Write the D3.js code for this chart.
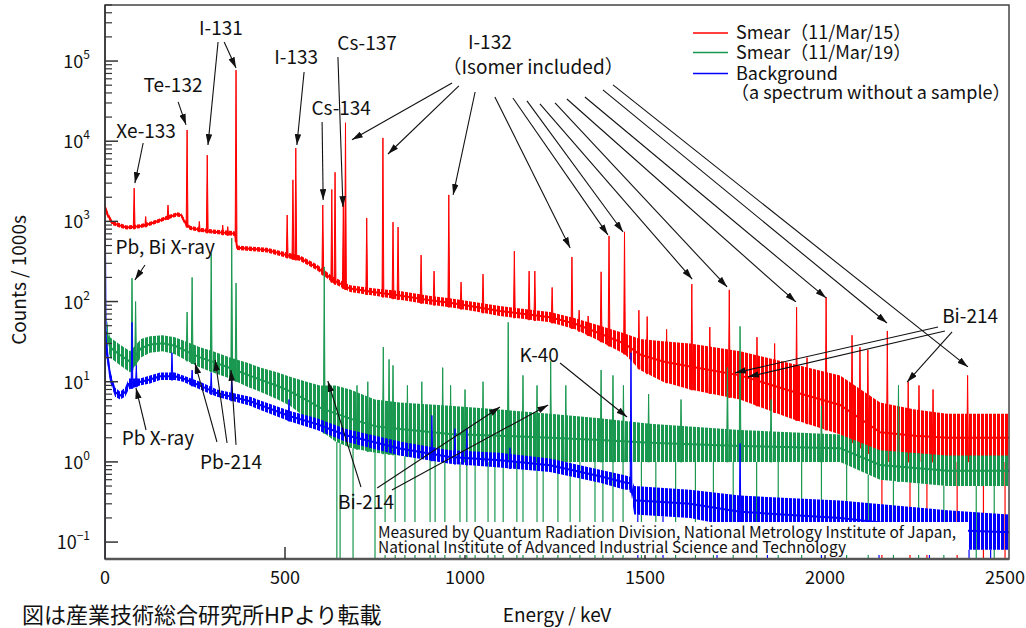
<!DOCTYPE html>
<html>
<head>
<meta charset="utf-8">
<script src="https://cdn.jsdelivr.net/npm/d3@7"></script>
<style>
    body { margin: 0; background: #fff; }
    text { font-family: "Noto Sans CJK JP", "Noto Sans", sans-serif; fill: #111; }
</style>
</head>
<body>
<div id="chart"></div>
<script>

//////
// Values

let xTicks = [0, 500, 1000, 1500, 2000, 2500];
let yDecades = [-1, 0, 1, 2, 3, 4, 5];

let seriesNames = ["Smear（11/Mar/15）", "Smear（11/Mar/19）", "Background"];
let seriesNote = "（a spectrum without a sample）";
let seriesColors = ["#ff0000", "#1a9850", "#0000ff"];

// [energy keV, low, high] envelope of the noisy spectrum (counts / 1000s)
let redBand = [
    [0, 1350, 1650], [8, 1100, 1300], [20, 900, 1020], [42, 830, 950], [60, 790, 890],
    [97, 820, 920], [125, 880, 990], [150, 960, 1080], [175, 1060, 1190], [200, 1150, 1300],
    [212, 1120, 1260], [222, 900, 1050], [236, 780, 880], [264, 740, 830], [300, 700, 790],
    [356, 660, 760], [362, 650, 740], [367, 440, 500], [450, 410, 470], [506, 350, 410],
    [542, 320, 375], [589, 245, 290], [633, 170, 205], [681, 132, 160], [750, 118, 145],
    [819, 105, 135], [900, 92, 118], [958, 85, 110], [1030, 75, 98], [1097, 66, 88],
    [1170, 60, 80], [1236, 55, 74], [1306, 45, 62], [1375, 32, 50], [1444, 22, 40],
    [1486, 14, 34], [1550, 10, 32], [1625, 8, 30], [1764, 6, 24], [1903, 3.5, 17],
    [2042, 2.2, 12], [2153, 1.0, 5.5], [2250, 1.0, 4.5], [2339, 1.0, 4], [2511, 1.0, 4]
];
// [energy keV, top]
let redPeaks = [
    [81, 2600], [113, 1150], [175, 1600], [228, 13800], [262, 1000], [284, 6700],
    [327, 900], [341, 860], [364, 77000], [506, 1200], [522, 3300], [530, 8200],
    [605, 1600], [630, 2500], [639, 4100], [662, 1800], [668, 17000], [727, 1100],
    [772, 11000], [800, 980], [814, 850], [878, 380], [914, 240], [955, 2140],
    [989, 175], [1050, 220], [1137, 425], [1178, 240], [1194, 240], [1242, 150],
    [1297, 360], [1317, 78], [1342, 66], [1378, 235], [1400, 660], [1443, 740],
    [1483, 78], [1506, 65], [1560, 45], [1630, 165], [1680, 48], [1734, 140],
    [1811, 36], [1860, 30], [1921, 85], [1950, 20], [2003, 114], [2075, 38],
    [2097, 27], [2119, 25], [2173, 43], [2231, 10], [2261, 9], [2300, 8], [2396, 12]
];
// energies where the count falls to zero
let redDrops = [2158, 2236, 2283, 2367, 2440, 2500];

let greenBand = [
    [5, 30, 60], [14, 20, 36], [42, 16, 29], [70, 13, 24], [100, 20, 34], [125, 23, 37],
    [160, 24, 38], [194, 22, 36], [230, 18, 31], [264, 15, 27], [300, 13, 24], [347, 11, 20],
    [400, 8.5, 17], [431, 7.5, 15], [480, 6, 13], [514, 5, 11.5], [560, 3.5, 10],
    [597, 2.5, 9], [640, 1.8, 9], [681, 1.5, 8], [750, 1.3, 6], [819, 1.2, 5.5],
    [958, 1.0, 5], [1097, 1.0, 4.5], [1236, 1.0, 4], [1375, 1.0, 3.5], [1514, 1.0, 3],
    [1764, 1.0, 2.5], [2042, 1.0, 2.2], [2153, 0.6, 1.4], [2339, 0.5, 1.2], [2511, 0.5, 1.2]
];
let greenPeaks = [
    [75, 196], [85, 100], [228, 74], [242, 200], [295, 400], [352, 620], [364, 170],
    [609, 270], [700, 9], [730, 10], [773, 27], [789, 19], [800, 16], [840, 9], [880, 10],
    [938, 15], [960, 9], [1000, 8], [1050, 10], [1120, 55], [1161, 12], [1200, 9],
    [1238, 18], [1280, 9], [1378, 14], [1411, 12], [1440, 9], [1510, 7], [1600, 6],
    [1729, 15], [1764, 49], [1850, 6], [1990, 5], [2204, 9]
];
let greenDrops = [
    644, 653, 689, 750, 778, 806, 833, 861, 903, 917, 944, 986, 1005, 1028, 1064, 1083,
    1106, 1144, 1161, 1200, 1217, 1258, 1292, 1319, 1361, 1383, 1411, 1439, 1490, 1530,
    1585, 1640, 1690, 1745, 1810, 1870, 1935, 1990, 2060, 2120, 2190, 2260, 2330, 2420, 2470
];

let blueBand = [
    [3, 22, 40], [14, 10, 14], [28, 6.5, 8.5], [42, 6.0, 7.5], [56, 6.5, 8.5], [66, 8, 11],
    [97, 9, 11], [125, 9.5, 12], [153, 10.5, 13], [194, 10.5, 13], [217, 10, 12],
    [264, 8, 10], [311, 6.5, 8], [403, 5, 6.5], [514, 3.2, 4.3], [589, 2.5, 3.5],
    [667, 1.8, 2.6], [819, 1.2, 1.8], [958, 0.95, 1.4], [1097, 0.85, 1.3], [1236, 0.75, 1.1],
    [1375, 0.55, 0.8], [1444, 0.45, 0.68], [1460, 0.45, 0.65], [1470, 0.22, 0.5],
    [1625, 0.2, 0.45], [1764, 0.15, 0.38], [2042, 0.12, 0.33], [2339, 0.08, 0.25], [2511, 0.08, 0.22]
];
let bluePeaks = [
    [1, 1000], [75, 55], [87, 16], [186, 23], [242, 14], [295, 13], [352, 12], [511, 6],
    [908, 3.8], [972, 2.6], [1005, 2.6], [1125, 1.5], [1461, 23], [1764, 1.7]
];
let blueDrops = [1, 1480, 1550, 1700, 1840, 1990, 2150, 2290, 2400, 2460];

// [text, energy, counts] centre of each annotation
let noteLabels = [
    ["I-131", 322, 2.59e5], ["Te-132", 189, 5.0e4], ["Xe-133", 114, 1.34e4],
    ["I-133", 531, 1.12e5], ["Cs-134", 656, 2.6e4], ["Cs-137", 728, 1.68e5],
    ["I-132", 1069, 1.73e5], ["（Isomer included）", 1189, 8.4e4], ["Bi-214", 2403, 66],
    ["K-40", 1206, 21.6], ["Bi-214", 725, 0.316], ["Pb-214", 350, 1.0],
    ["Pb X-ray", 147, 1.99], ["Pb, Bi X-ray", 167, 480]
];
// [from energy, from counts, to energy, to counts]
let noteArrows = [
    [314, 1.73e5, 286, 8980], [331, 1.73e5, 364, 8.2e4], [203, 3.09e4, 225, 1.6e4],
    [106, 9500, 83, 3010], [553, 7.3e4, 533, 8980], [603, 1.74e4, 606, 1850],
    [647, 1.12e5, 661, 1510],
    [964, 5.33e4, 686, 1.04e4], [983, 4.89e4, 786, 6930], [1028, 4.11e4, 967, 2140],
    [1083, 3.56e4, 1292, 466], [1133, 3.46e4, 1397, 678], [1172, 3.18e4, 1439, 738],
    [1208, 2.92e4, 1631, 191], [1250, 3.0e4, 1728, 152], [1283, 3.36e4, 1919, 99],
    [1333, 3.56e4, 2003, 111], [1383, 4.36e4, 2172, 54], [1411, 5.04e4, 2397, 15.3],
    [2314, 48.2, 1750, 12.9], [2333, 43, 1786, 11.5], [2353, 41.8, 2228, 9.9],
    [1264, 17.1, 1450, 3.63],
    [711, 0.486, 619, 10.2], [756, 0.473, 1097, 4.84], [797, 0.447, 1231, 5.13],
    [311, 1.77, 250, 17.1], [339, 1.72, 306, 18.7], [364, 1.63, 350, 14.0],
    [114, 2.50, 86, 8.36], [111, 286, 83, 186]
];

let creditLines = [
    "Measured by Quantum Radiation Division, National Metrology Institute of Japan,",
    "National Institute of Advanced Industrial Science and Technology"
];
let sourceNote = "図は産業技術総合研究所HPより転載";
let xTitle = "Energy / keV";
let yTitle = "Counts / 1000s";

//////
// Layout

let width = 1026, height = 628;
let margin = {top: 5, right: 17, bottom: 69, left: 105};
let plotW = width - margin.left - margin.right;
let plotH = height - margin.top - margin.bottom;

let svg = d3.select("#chart").append("svg")
    .attr("width", width)
    .attr("height", height);

let xScale = d3.scaleLinear().domain([0, 2511]).range([0, plotW]);
let yScale = d3.scaleLog().domain([0.0615, 5e5]).range([plotH, 0]);

let defs = svg.append("defs");
defs.append("clipPath").attr("id", "plotClip")
    .append("rect").attr("width", plotW).attr("height", plotH);

//vertical hatch so the wide noise bands read as dense channel lines
seriesColors.forEach((c, i) =>
{
    let p = defs.append("pattern")
        .attr("id", "noise" + i)
        .attr("patternUnits", "userSpaceOnUse")
        .attr("width", 4).attr("height", 8);
    p.append("rect").attr("width", 3).attr("height", 8).attr("fill", c);
});

let marker = defs.append("marker")
    .attr("id", "arrowHead")
    .attr("viewBox", "0 0 10 6")
    .attr("refX", 10).attr("refY", 3)
    .attr("markerWidth", 11).attr("markerHeight", 6.5)
    .attr("markerUnits", "userSpaceOnUse")
    .attr("orient", "auto");
marker.append("path").attr("d", "M0,0L10,3L0,6Z").attr("fill", "#111");

let plot = svg.append("g").attr("transform", "translate(" + margin.left + "," + margin.top + ")");

//////
// Spectra

let dataLayer = plot.append("g").attr("clip-path", "url(#plotClip)");

function drawSeries(band, peaks, drops, i)
{
    let color = seriesColors[i];
    let g = dataLayer.append("g");

    let area = d3.area()
        .x(d => xScale(d[0]))
        .y0(d => yScale(d[1]))
        .y1(d => yScale(d[2]));

    g.append("path").datum(band)
        .attr("d", area)
        .attr("fill", "url(#noise" + i + ")");

    //centre line of the band
    let mid = d3.line()
        .x(d => xScale(d[0]))
        .y(d => yScale(Math.sqrt(d[1] * d[2])));
    g.append("path").datum(band)
        .attr("d", mid)
        .attr("fill", "none")
        .attr("stroke", color)
        .attr("stroke-width", 2);

    //low edge of the band at any energy, for the foot of spikes
    let lowAt = d3.scaleLinear()
        .domain(band.map(d => d[0]))
        .range(band.map(d => Math.log10(d[1])))
        .clamp(true);

    g.selectAll(".drop").data(drops).join("line")
        .attr("x1", d => xScale(d)).attr("x2", d => xScale(d))
        .attr("y1", d => yScale(Math.pow(10, lowAt(d))))
        .attr("y2", plotH)
        .attr("stroke", color)
        .attr("stroke-width", 1.2);

    g.selectAll(".peak").data(peaks).join("path")
        .attr("d", d =>
        {
            let x = xScale(d[0]);
            let b = yScale(Math.pow(10, lowAt(d[0])));
            let t = yScale(d[1]);
            return "M" + (x - 0.9) + "," + b + "L" + x + "," + t + "L" + (x + 0.9) + "," + b + "Z";
        })
        .attr("fill", color)
        .attr("stroke", color)
        .attr("stroke-width", 1);
}

drawSeries(redBand, redPeaks, redDrops, 0);
drawSeries(greenBand, greenPeaks, greenDrops, 1);
drawSeries(blueBand, bluePeaks, blueDrops, 2);

//////
// Axes and frame

plot.append("rect")
    .attr("width", plotW).attr("height", plotH)
    .attr("fill", "none").attr("stroke", "#444").attr("stroke-width", 1.5);
plot.append("line")
    .attr("x1", 0).attr("x2", plotW).attr("y1", plotH).attr("y2", plotH)
    .attr("stroke", "#555").attr("stroke-width", 2.5);

let xAxis = plot.append("g");
xAxis.selectAll("line").data(xTicks.slice(1, -1)).join("line")
    .attr("x1", d => xScale(d)).attr("x2", d => xScale(d))
    .attr("y1", plotH).attr("y2", plotH - 12)
    .attr("stroke", "#333").attr("stroke-width", 1.5);
xAxis.selectAll("text").data(xTicks).join("text")
    .attr("x", d => xScale(d))
    .attr("y", plotH + 25)
    .attr("text-anchor", "middle")
    .attr("font-size", 18)
    .text(d => d);

let yAxis = plot.append("g");
let minorTicks = [];
yDecades.forEach(p =>
{
    for (let m = 2; m < 10; m++)
    {
        let v = m * Math.pow(10, p);
        if (v <= yScale.domain()[1]) minorTicks.push(v);
    }
});
yAxis.selectAll(".minor").data(minorTicks).join("line")
    .attr("x1", 0).attr("x2", 7)
    .attr("y1", d => yScale(d)).attr("y2", d => yScale(d))
    .attr("stroke", "#333").attr("stroke-width", 1.2);
yAxis.selectAll(".major").data(yDecades).join("line")
    .attr("x1", 0).attr("x2", 13)
    .attr("y1", d => yScale(Math.pow(10, d))).attr("y2", d => yScale(Math.pow(10, d)))
    .attr("stroke", "#333").attr("stroke-width", 1.5);
let yLabels = yAxis.selectAll("text").data(yDecades).join("text")
    .attr("x", -15)
    .attr("y", d => yScale(Math.pow(10, d)) + 7)
    .attr("text-anchor", "end")
    .attr("font-size", 18);
yLabels.append("tspan").text("10");
yLabels.append("tspan")
    .attr("font-size", 12)
    .attr("dy", -9)
    .text(d => d < 0 ? "−" + Math.abs(d) : d);

plot.append("line")
    .attr("x1", 0).attr("x2", 0).attr("y1", 0).attr("y2", plotH)
    .attr("stroke", "#333").attr("stroke-width", 1.5);

svg.append("text")
    .attr("transform", "translate(26,280) rotate(-90)")
    .attr("text-anchor", "middle")
    .attr("font-size", 19)
    .text(yTitle);
svg.append("text")
    .attr("x", 557).attr("y", 622)
    .attr("text-anchor", "middle")
    .attr("font-size", 19)
    .text(xTitle);
svg.append("text")
    .attr("x", 22).attr("y", 623)
    .attr("font-size", 22)
    .text(sourceNote);

//////
// Annotations

let notes = plot.append("g");
notes.selectAll("line").data(noteArrows).join("line")
    .attr("x1", d => xScale(d[0])).attr("y1", d => yScale(d[1]))
    .attr("x2", d => xScale(d[2])).attr("y2", d => yScale(d[3]))
    .attr("stroke", "#111").attr("stroke-width", 1.1)
    .attr("marker-end", "url(#arrowHead)");
notes.selectAll("text").data(noteLabels).join("text")
    .attr("x", d => xScale(d[1]))
    .attr("y", d => yScale(d[2]))
    .attr("dy", "0.36em")
    .attr("text-anchor", "middle")
    .attr("font-size", 19)
    .text(d => d[0]);

//////
// Legend

let legend = plot.append("g").attr("transform", "translate(588, 28)");
let rowGap = [0, 19.5, 40.5];
seriesNames.forEach((name, i) =>
{
    legend.append("line")
        .attr("x1", 0).attr("x2", 35)
        .attr("y1", rowGap[i]).attr("y2", rowGap[i])
        .attr("stroke", seriesColors[i]).attr("stroke-width", 1.5);
    legend.append("text")
        .attr("x", 43).attr("y", rowGap[i])
        .attr("dy", "0.36em")
        .attr("font-size", 18)
        .text(name);
});
legend.append("text")
    .attr("x", 38).attr("y", 60)
    .attr("dy", "0.36em")
    .attr("font-size", 18)
    .text(seriesNote);

//////
// Credit box

let credit = plot.append("g").attr("transform", "translate(271," + (plotH - 37) + ")");
credit.append("rect")
    .attr("width", 592).attr("height", 33)
    .attr("fill", "#fff");
credit.selectAll("text").data(creditLines).join("text")
    .attr("x", 2)
    .attr("y", (d, i) => 10 + i * 15.5)
    .attr("dy", "0.36em")
    .attr("font-size", 15.5)
    .text(d => d);

</script>
</body>
</html>
